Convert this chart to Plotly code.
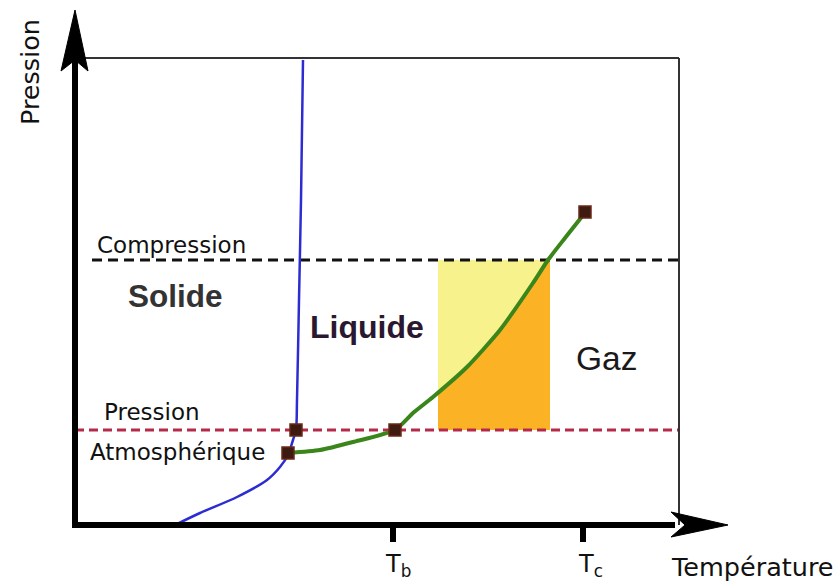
import numpy as np
import plotly.graph_objects as go

# ---------------- data (arbitrary T / P units, origin at the axes corner) -------------
fusion_T = [100, 125, 162, 192, 205, 213, 218, 221, 222, 224, 226, 228]
fusion_P = [0, 12, 28, 45, 58, 70, 85, 95, 125, 225, 325, 465]

vapor_T = [213, 245, 278, 320, 338, 358, 392, 425, 458, 473, 490, 509]
vapor_P = [72, 75, 83, 95, 112, 128, 158, 195, 242, 265, 287, 311]

point_T = [221, 213, 320, 510]
point_P = [95, 72, 95, 313]

P_atm = 95
P_comp = 265
rect_T = [363, 475]
T_b = 320
T_c = 510
box_T = 604
box_P = 467
tick_labels = ["T<sub>b</sub>", "T<sub>c</sub>"]

fig = go.Figure()

# yellow rectangle
fig.add_trace(go.Scatter(
    x=[rect_T[0], rect_T[1], rect_T[1], rect_T[0], rect_T[0]],
    y=[P_atm, P_atm, P_comp, P_comp, P_atm],
    fill="toself", fillcolor="#f8f28c", line=dict(width=0), mode="lines",
    hoverinfo="skip"))

# orange area under the vaporisation curve inside the rectangle
vt = np.array(vapor_T, float)
vp = np.array(vapor_P, float)
inside = (vt > rect_T[0]) & (vt < rect_T[1])
p_left = float(np.interp(rect_T[0], vt, vp))
p_right = min(float(np.interp(rect_T[1], vt, vp)), P_comp)
ox = [rect_T[0], rect_T[0]] + list(vt[inside]) + [rect_T[1], rect_T[1], rect_T[0]]
oy = [P_atm, p_left] + list(np.minimum(vp[inside], P_comp)) + [p_right, P_atm, P_atm]
fig.add_trace(go.Scatter(x=ox, y=oy, fill="toself", fillcolor="#fbb224",
                         line=dict(width=0), mode="lines", hoverinfo="skip"))

# dashed lines
fig.add_trace(go.Scatter(x=[17, box_T], y=[P_comp, P_comp], mode="lines",
                         line=dict(color="#111111", width=3, dash="10px,6px")))
fig.add_trace(go.Scatter(x=[0, box_T], y=[P_atm, P_atm], mode="lines",
                         line=dict(color="#b52a48", width=3, dash="9px,5px")))

# curves
fig.add_trace(go.Scatter(x=fusion_T, y=fusion_P, mode="lines", line_shape="spline",
                         line=dict(color="#2c2cd2", width=2.5, smoothing=0.8)))
fig.add_trace(go.Scatter(x=vapor_T, y=vapor_P, mode="lines", line_shape="spline",
                         line=dict(color="#3a861a", width=4, smoothing=0.6)))

# points
fig.add_trace(go.Scatter(x=point_T, y=point_P, mode="markers",
                         marker=dict(color="#3f1a10", size=12, symbol="square",
                                     line=dict(color="#6a2a1a", width=1.5))))

shapes = []
# box
shapes.append(dict(type="line", x0=0, x1=box_T, y0=box_P, y1=box_P,
                   line=dict(color="#333333", width=2)))
shapes.append(dict(type="line", x0=box_T, x1=box_T, y0=0, y1=box_P,
                   line=dict(color="#333333", width=2)))
# axes
shapes.append(dict(type="line", x0=0, x1=0, y0=-3, y1=470,
                   line=dict(color="black", width=6)))
shapes.append(dict(type="line", x0=-3, x1=600, y0=0, y1=0,
                   line=dict(color="black", width=6)))
shapes.append(dict(type="path", path="M 0 515 L 13 454 L 0 465 L -14 454 Z",
                   fillcolor="black", line=dict(color="black", width=1)))
shapes.append(dict(type="path", path="M 653 0 L 596 13 L 610 0 L 596 -12 Z",
                   fillcolor="black", line=dict(color="black", width=1)))
# ticks
for t in (T_b, T_c):
    shapes.append(dict(type="line", x0=t - 2, x1=t - 2, y0=-2, y1=-17,
                       line=dict(color="black", width=6)))

ann = []
def text(x, y, s, size, family="DejaVu Sans", color="#111111", angle=0):
    ann.append(dict(x=x, y=y, text=s, showarrow=False, textangle=angle,
                    font=dict(size=size, family=family, color=color),
                    xanchor="center", yanchor="middle"))

text(-45, 453, "Pression", 25.5, angle=-90)
text(96, 280, "Compression", 23)
text(100, 229, "<b>Solide</b>", 31.5, family="Liberation Sans", color="#333333")
text(292, 198, "<b>Liquide</b>", 32, family="Liberation Sans", color="#2a1830")
text(531, 167, "Gaz", 33.5, family="Liberation Sans", color="#1a1a1a")
text(77, 113, "Pression", 23)
text(102, 73, "Atmosphérique", 23)
text(T_b + 3, -40, tick_labels[0], 24)
text(T_c + 5, -40, tick_labels[1], 24)
text(677, -42, "Température", 25.5)

fig.update_layout(
    width=840, height=582, margin=dict(l=0, r=0, t=0, b=0),
    paper_bgcolor="white", plot_bgcolor="white", showlegend=False,
    xaxis=dict(range=[-75, 765], visible=False, fixedrange=True),
    yaxis=dict(range=[-57, 525], visible=False, fixedrange=True),
    shapes=shapes, annotations=ann)

fig.write_html("out.html", config={"displayModeBar": False},
               post_script="document.body.style.margin='0px';"
                           "document.body.style.overflow='hidden';")
